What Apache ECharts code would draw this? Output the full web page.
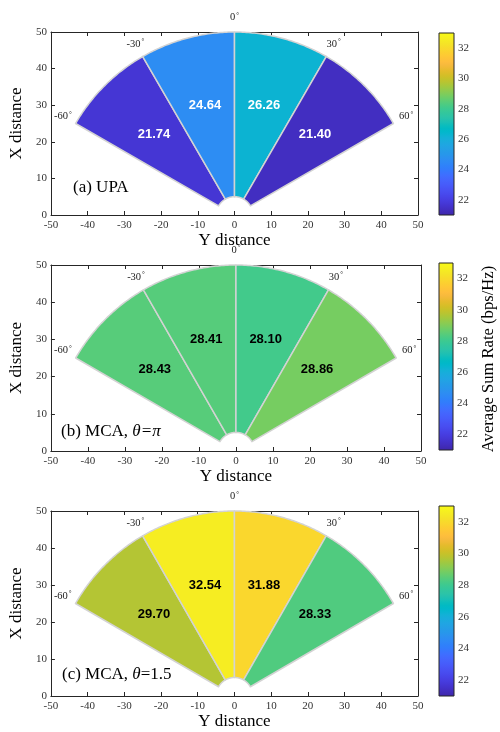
<!DOCTYPE html>
<html>
<head>
<meta charset="utf-8">
<script src="https://cdn.jsdelivr.net/npm/echarts@6/dist/echarts.min.js"></script>
<style>
  html, body { margin: 0; padding: 0; background: #fff; }
  #chart { width: 500px; height: 732px; }
</style>
</head>
<body>
<div id="chart"></div>
<script>
// Sector boundaries in degrees, measured from the X-distance axis toward +Y
const sectorEdges = [-60, -30, 0, 30, 60];
const innerRadius = 5;
const outerRadius = 50;
const labelRadius = 31;
const edgeLabelRadius = 54;

// Average sum rate (bps/Hz) per sector, left to right
const upaRates = [21.74, 24.64, 26.26, 21.40];
const mcaPiRates = [28.43, 28.41, 28.10, 28.86];
const mca15Rates = [29.70, 32.54, 31.88, 28.33];

const colorMin = 21;
const colorMax = 33;
const colorbarTicks = [22, 24, 26, 28, 30, 32];

// parula colormap, 64 entries
const parula = [
  [0.2422,0.1504,0.6603],[0.2504,0.1650,0.7076],[0.2578,0.1818,0.7511],[0.2647,0.1978,0.7952],
  [0.2706,0.2147,0.8364],[0.2751,0.2342,0.8710],[0.2783,0.2559,0.8991],[0.2803,0.2782,0.9221],
  [0.2813,0.3006,0.9414],[0.2810,0.3228,0.9579],[0.2795,0.3447,0.9717],[0.2760,0.3667,0.9829],
  [0.2699,0.3892,0.9906],[0.2602,0.4123,0.9952],[0.2440,0.4358,0.9988],[0.2206,0.4603,0.9973],
  [0.1963,0.4847,0.9892],[0.1834,0.5074,0.9798],[0.1786,0.5289,0.9682],[0.1764,0.5499,0.9520],
  [0.1687,0.5703,0.9359],[0.1540,0.5902,0.9218],[0.1460,0.6091,0.9079],[0.1380,0.6276,0.8973],
  [0.1248,0.6459,0.8883],[0.1113,0.6635,0.8763],[0.0952,0.6798,0.8598],[0.0689,0.6948,0.8394],
  [0.0297,0.7082,0.8163],[0.0036,0.7203,0.7917],[0.0067,0.7312,0.7660],[0.0433,0.7411,0.7394],
  [0.0964,0.7500,0.7120],[0.1408,0.7584,0.6842],[0.1717,0.7670,0.6554],[0.1938,0.7758,0.6251],
  [0.2161,0.7843,0.5923],[0.2470,0.7918,0.5567],[0.2906,0.7973,0.5188],[0.3406,0.8008,0.4789],
  [0.3909,0.8029,0.4354],[0.4456,0.8024,0.3909],[0.5044,0.7993,0.3480],[0.5616,0.7942,0.3045],
  [0.6174,0.7876,0.2612],[0.6720,0.7793,0.2227],[0.7242,0.7698,0.1910],[0.7738,0.7598,0.1646],
  [0.8203,0.7498,0.1535],[0.8634,0.7406,0.1596],[0.9035,0.7330,0.1774],[0.9393,0.7288,0.2100],
  [0.9728,0.7298,0.2394],[0.9956,0.7434,0.2371],[0.9970,0.7659,0.2199],[0.9952,0.7893,0.2028],
  [0.9892,0.8136,0.1885],[0.9786,0.8386,0.1766],[0.9676,0.8639,0.1643],[0.9610,0.8890,0.1537],
  [0.9597,0.9135,0.1423],[0.9628,0.9373,0.1265],[0.9691,0.9606,0.1064],[0.9769,0.9839,0.0805]
];
const parulaHex = parula.map(c => '#' + c.map(v => Math.round(v * 255).toString(16).padStart(2, '0')).join(''));

// Panel layout: plot area and colorbar box for each of the three maps
const panels = [
  { rates: upaRates,   labelColor: '#ffffff',
    grid: { left: 51, top: 32, width: 367, height: 183 },
    bar:  { left: 439, top: 33, width: 15, height: 182 },
    title: { x: 73, y: 189, text: '(a) UPA' } },
  { rates: mcaPiRates, labelColor: '#000000',
    grid: { left: 47, top: 265, width: 374, height: 186 },
    bar:  { left: 439, top: 263, width: 14, height: 187 },
    title: { x: 61, y: 433, text: '(b) MCA, {i|θ=π}' } },
  { rates: mca15Rates, labelColor: '#000000',
    grid: { left: 48, top: 511, width: 370, height: 185 },
    bar:  { left: 439, top: 506, width: 15, height: 190 },
    title: { x: 62, y: 676, text: '(c) MCA, {i|θ}=1.5' } }
];

const serif = '"Liberation Serif", "Times New Roman", serif';
const axisColor = '#262626';
const tickTextColor = '#333333';

function polar(r, deg) {
  const a = deg * Math.PI / 180;
  return [r * Math.sin(a), r * Math.cos(a)];
}

function makeSectorRenderer(labelColor) {
  return function (params, api) {
    const a0 = api.value(0), a1 = api.value(1);
    const n = 48;
    const pts = [];
    for (let i = 0; i <= n; i++) pts.push(api.coord(polar(outerRadius, a0 + (a1 - a0) * i / n)));
    for (let i = n; i >= 0; i--) pts.push(api.coord(polar(innerRadius, a0 + (a1 - a0) * i / n)));
    const lp = api.coord(polar(labelRadius, (a0 + a1) / 2));
    return {
      type: 'group',
      children: [
        { type: 'polygon', shape: { points: pts },
          style: { fill: api.visual('color'), stroke: '#d3d3d3', lineWidth: 1.5, lineJoin: 'round' } },
        { type: 'text', x: lp[0], y: lp[1], z2: 10,
          style: { text: api.value(2).toFixed(2), fill: labelColor,
                   fontFamily: '"Liberation Sans", Arial, sans-serif', fontWeight: 'bold', fontSize: 13,
                   align: 'center', verticalAlign: 'middle' } }
      ]
    };
  };
}

function renderEdgeLabel(params, api) {
  const deg = api.value(0);
  const p = api.coord(polar(edgeLabelRadius, deg));
  return {
    type: 'text', x: p[0], y: p[1],
    style: {
      text: '{a|' + deg + '}{d|°}',
      align: 'center', verticalAlign: 'middle',
      rich: {
        a: { fontFamily: serif, fontSize: 10.5, fill: '#222', lineHeight: 12 },
        d: { fontFamily: serif, fontSize: 7, fill: '#222', lineHeight: 12, verticalAlign: 'top', padding: [0, 0, 6, 1] }
      }
    }
  };
}

function renderColorbar(params, api) {
  const top = api.coord([0, api.value(2)]);
  const bottom = api.coord([1, api.value(1)]);
  const n = parulaHex.length;
  // top of the bar is the high end of the colormap
  const stops = parulaHex.map((c, i) => ({ offset: i / (n - 1), color: parulaHex[n - 1 - i] }));
  return {
    type: 'rect',
    shape: { x: top[0], y: top[1], width: bottom[0] - top[0], height: bottom[1] - top[1] },
    style: {
      fill: new echarts.graphic.LinearGradient(0, 0, 0, 1, stops),
      stroke: axisColor, lineWidth: 1
    }
  };
}

const grids = [], xAxes = [], yAxes = [], series = [], visualMaps = [], graphics = [];

panels.forEach((p, k) => {
  const gMain = grids.length;
  grids.push(Object.assign({ containLabel: false }, p.grid));
  const gBar = grids.length;
  grids.push(Object.assign({ containLabel: false }, p.bar));

  const tick = { show: true, inside: true, length: 4, lineStyle: { color: axisColor, width: 1 } };
  const line = { show: true, onZero: false, lineStyle: { color: axisColor, width: 1 } };

  // main plot axes (bottom/left labelled, top/right ticks only)
  const xi = xAxes.length;
  xAxes.push({ gridIndex: gMain, type: 'value', position: 'bottom', min: -50, max: 50, interval: 10,
    axisLine: line, axisTick: tick, splitLine: { show: false },
    axisLabel: { color: tickTextColor, fontFamily: serif, fontSize: 11, margin: 5 },
    name: 'Y distance', nameLocation: 'middle', nameGap: 16,
    nameTextStyle: { fontFamily: serif, fontSize: 17, color: '#000' } });
  xAxes.push({ gridIndex: gMain, type: 'value', position: 'top', min: -50, max: 50, interval: 10,
    axisLine: line, axisTick: tick, axisLabel: { show: false }, splitLine: { show: false } });
  const yi = yAxes.length;
  yAxes.push({ gridIndex: gMain, type: 'value', position: 'left', min: 0, max: 50, interval: 10,
    axisLine: line, axisTick: tick, splitLine: { show: false },
    axisLabel: { color: tickTextColor, fontFamily: serif, fontSize: 11, margin: 4 },
    name: 'X distance', nameLocation: 'middle', nameGap: 19, nameRotate: 90,
    nameTextStyle: { fontFamily: serif, fontSize: 17, color: '#000' } });
  yAxes.push({ gridIndex: gMain, type: 'value', position: 'right', min: 0, max: 50, interval: 10,
    axisLine: line, axisTick: tick, axisLabel: { show: false }, splitLine: { show: false } });

  // colorbar axes
  const cbx = xAxes.length;
  xAxes.push({ gridIndex: gBar, type: 'value', min: 0, max: 1, show: false });
  const cby = yAxes.length;
  yAxes.push({ gridIndex: gBar, type: 'value', position: 'right', min: colorMin, max: colorMax,
    axisLine: { show: false, onZero: false }, splitLine: { show: false },
    axisTick: { show: true, inside: true, length: 3, customValues: colorbarTicks, lineStyle: { color: axisColor } },
    axisLabel: { customValues: colorbarTicks, color: tickTextColor, fontFamily: serif, fontSize: 11, margin: 4 } });

  const sIdx = series.length;
  series.push({
    type: 'custom', xAxisIndex: xi, yAxisIndex: yi,
    renderItem: makeSectorRenderer(p.labelColor),
    encode: { x: [0, 1], y: 2 },
    data: p.rates.map((v, i) => [sectorEdges[i], sectorEdges[i + 1], v]),
    z: 2
  });
  series.push({
    type: 'custom', xAxisIndex: xi, yAxisIndex: yi,
    renderItem: renderEdgeLabel,
    data: sectorEdges.map(a => [a]),
    z: 3, silent: true
  });
  series.push({
    type: 'custom', xAxisIndex: cbx, yAxisIndex: cby,
    renderItem: renderColorbar,
    data: [[0, colorMin, colorMax]],
    z: 2, silent: true
  });

  visualMaps.push({
    type: 'continuous', show: false, seriesIndex: sIdx, dimension: 2,
    min: colorMin, max: colorMax, inRange: { color: parulaHex }
  });

  graphics.push({
    type: 'text', left: p.title.x, top: p.title.y - 10,
    style: {
      text: p.title.text, fill: '#000', fontFamily: serif, fontSize: 17,
      rich: { i: { fontFamily: serif, fontSize: 17, fontStyle: 'italic', fill: '#000' } }
    }
  });
});

// shared colorbar caption
graphics.push({
  type: 'text', x: 489, y: 359, rotation: Math.PI / 2,
  style: { text: 'Average Sum Rate (bps/Hz)', fill: '#000', fontFamily: serif, fontSize: 16.6,
           align: 'center', verticalAlign: 'middle' }
});

const chart = echarts.init(document.getElementById('chart'), null, { renderer: 'canvas' });
chart.setOption({
  animation: false,
  backgroundColor: '#ffffff',
  grid: grids,
  xAxis: xAxes,
  yAxis: yAxes,
  visualMap: visualMaps,
  series: series,
  graphic: graphics
});
</script>
</body>
</html>
